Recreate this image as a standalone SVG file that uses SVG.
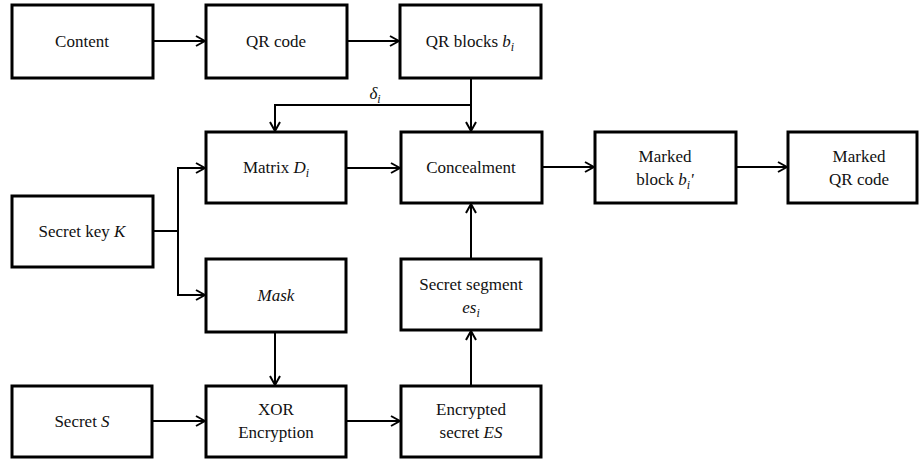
<svg xmlns="http://www.w3.org/2000/svg" width="920" height="459" viewBox="0 0 920 459">
<defs>
<marker id="arr" viewBox="0 0 12 12" refX="11" refY="6" markerWidth="12" markerHeight="12" markerUnits="userSpaceOnUse" orient="auto">
<path d="M2,1 L11,6 L2,11" fill="none" stroke="#000" stroke-width="2"/>
</marker>
<style>
.box{fill:#fff;stroke:#000;stroke-width:3}
.t{font-family:"Liberation Serif","Times New Roman",serif;font-size:17px;fill:#111;text-anchor:middle}
.i{font-style:italic}
.s{font-size:12px;font-style:italic}
.ln{fill:none;stroke:#000;stroke-width:2}
</style>
</defs>
<rect width="920" height="459" fill="#fff"/>
<g id="connectors">
<line class="ln" x1="153" y1="41" x2="205" y2="41" marker-end="url(#arr)"/>
<line class="ln" x1="347" y1="41" x2="399" y2="41" marker-end="url(#arr)"/>
<line class="ln" x1="471" y1="78" x2="471" y2="131" marker-end="url(#arr)"/>
<polyline class="ln" points="471,105 275,105 275,131" marker-end="url(#arr)"/>
<line class="ln" x1="153" y1="231" x2="178" y2="231"/>
<polyline class="ln" points="205,168 178,168 178,295 205,295" />
<line class="ln" x1="178" y1="168" x2="205" y2="168" marker-end="url(#arr)"/>
<line class="ln" x1="178" y1="295" x2="205" y2="295" marker-end="url(#arr)"/>
<line class="ln" x1="346" y1="168" x2="400" y2="168" marker-end="url(#arr)"/>
<line class="ln" x1="542" y1="167" x2="594" y2="167" marker-end="url(#arr)"/>
<line class="ln" x1="736" y1="167" x2="787" y2="167" marker-end="url(#arr)"/>
<line class="ln" x1="275" y1="332" x2="275" y2="385" marker-end="url(#arr)"/>
<line class="ln" x1="152" y1="421" x2="205" y2="421" marker-end="url(#arr)"/>
<line class="ln" x1="346" y1="421" x2="400" y2="421" marker-end="url(#arr)"/>
<line class="ln" x1="471" y1="386" x2="471" y2="331" marker-end="url(#arr)"/>
<line class="ln" x1="471" y1="259" x2="471" y2="204" marker-end="url(#arr)"/>
<text class="t i" x="375" y="99">δ<tspan class="s" dy="4">i</tspan></text>
</g>
<g id="content"><rect class="box" x="12" y="5" width="141" height="73"/><text class="t" x="82" y="47">Content</text></g>
<g id="qrcode"><rect class="box" x="206" y="5" width="141" height="73"/><text class="t" x="276" y="47">QR code</text></g>
<g id="qrblocks"><rect class="box" x="400" y="5" width="141" height="73"/><text class="t" x="470" y="47">QR blocks  <tspan class="i">b</tspan><tspan class="s" dy="4">i</tspan></text></g>
<g id="matrix"><rect class="box" x="206" y="132" width="140" height="71"/><text class="t" x="276" y="173">Matrix  <tspan class="i">D</tspan><tspan class="s" dy="4">i</tspan></text></g>
<g id="concealment"><rect class="box" x="401" y="132" width="141" height="71"/><text class="t" x="471" y="173">Concealment</text></g>
<g id="markedblock"><rect class="box" x="595" y="132" width="141" height="71"/><text class="t" x="665" y="162">Marked</text><text class="t" x="665" y="185">block <tspan class="i">b</tspan><tspan class="s" dy="4">i</tspan><tspan class="i" dy="-4">'</tspan></text></g>
<g id="markedqr"><rect class="box" x="788" y="132" width="129" height="71"/><text class="t" x="859" y="162">Marked</text><text class="t" x="859" y="185">QR code</text></g>
<g id="secretkey"><rect class="box" x="12" y="196" width="141" height="71"/><text class="t" x="82" y="237">Secret key <tspan class="i">K</tspan></text></g>
<g id="mask"><rect class="box" x="206" y="259" width="140" height="73"/><text class="t i" x="276" y="301">Mask</text></g>
<g id="secretsegment"><rect class="box" x="401" y="259" width="140" height="71"/><text class="t" x="471" y="290">Secret segment</text><text class="t i" x="471" y="313">es<tspan class="s" dy="4">i</tspan></text></g>
<g id="secrets"><rect class="box" x="12" y="386" width="140" height="71"/><text class="t" x="82" y="427">Secret <tspan class="i">S</tspan></text></g>
<g id="xor"><rect class="box" x="206" y="386" width="140" height="71"/><text class="t" x="276" y="415">XOR</text><text class="t" x="276" y="438">Encryption</text></g>
<g id="encrypted"><rect class="box" x="401" y="386" width="140" height="71"/><text class="t" x="471" y="415">Encrypted</text><text class="t" x="471" y="438">secret <tspan class="i">ES</tspan></text></g>
</svg>
